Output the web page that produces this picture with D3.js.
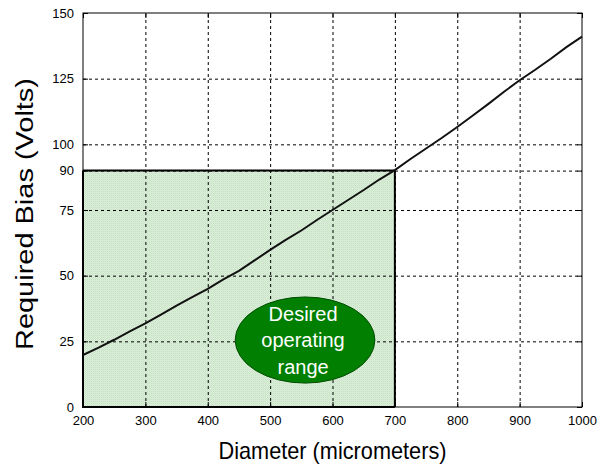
<!DOCTYPE html>
<meta charset="utf-8">
<style>
body { margin: 0; background: #fff; }
.tick text { font-family: Arial, "Liberation Sans", sans-serif; font-size: 13px; fill: #000; }
.grid line { stroke: #000; stroke-dasharray: 3,3; stroke-width: 1px; }
.grid path { display: none; }
.line { fill: none; stroke: #111; stroke-width: 2px; }
</style>
<svg width="610" height="472"></svg>
<script src="https://cdn.jsdelivr.net/npm/d3@7"></script>
<script>
// data
var diameter = [200,225,250,275,300,325,350,375,400,425,450,475,500,525,550,575,600,625,650,675,700,725,750,775,800,825,850,875,900,925,950,975,1000];
var bias = [19.8,22.6,25.6,28.8,31.8,35.2,38.6,41.8,45,48.6,51.8,55.8,59.8,63.6,67.2,71.2,75,78.8,82.6,86.6,90.2,94.4,98.4,102.4,106.6,111,115.4,120,124.4,128.4,132.6,137,141];
var xTicks = [200,300,400,500,600,700,800,900,1000];
var yTicks = [0,25,50,75,90,100,125,150];
var rangeMax = 700, biasMax = 90;
var labelLines = ["Desired", "operating", "range"];

var svg = d3.select("svg"),
    margin = {top: 13, right: 28, bottom: 65, left: 83},
    width = 582 - margin.left,
    height = 407 - margin.top,
    g = svg.append("g").attr("transform", "translate(" + margin.left + "," + margin.top + ")");

var x = d3.scaleLinear().domain([200, 1000]).range([0, width]),
    y = d3.scaleLinear().domain([0, 150]).range([height, 0]);

// dither pattern for the shaded area
var pat = svg.append("defs").append("pattern")
    .attr("id", "dots").attr("width", 2).attr("height", 2)
    .attr("patternUnits", "userSpaceOnUse");
pat.append("rect").attr("width", 2).attr("height", 2).attr("fill", "#ddefdb");
pat.append("rect").attr("width", 1).attr("height", 1).attr("fill", "#c3e0c2");
pat.append("rect").attr("x", 1).attr("y", 1).attr("width", 1).attr("height", 1).attr("fill", "#cfe7cd");

// shaded operating range
g.append("rect")
    .attr("x", x(200)).attr("y", y(biasMax))
    .attr("width", x(rangeMax) - x(200))
    .attr("height", y(0) - y(biasMax))
    .attr("fill", "url(#dots)");

// grid
g.append("g").attr("class", "grid")
    .attr("transform", "translate(0," + height + ")")
    .call(d3.axisBottom(x).tickValues(xTicks.slice(1, -1)).tickSize(-height).tickFormat(""));
g.append("g").attr("class", "grid")
    .call(d3.axisLeft(y).tickValues(yTicks.slice(1, -1)).tickSize(-width).tickFormat(""));

// frame
g.append("rect")
    .attr("width", width).attr("height", height)
    .attr("fill", "none").attr("stroke", "#000").attr("stroke-width", 1);

// border of the shaded range
g.append("path")
    .attr("d", "M" + x(200) + "," + y(biasMax) + "H" + x(rangeMax) + "V" + y(0))
    .attr("fill", "none").attr("stroke", "#000").attr("stroke-width", 2);
g.append("path")
    .attr("d", "M" + x(200) + "," + y(biasMax) + "V" + y(0) + "H" + x(rangeMax))
    .attr("fill", "none").attr("stroke", "#000").attr("stroke-width", 2);

// axes (inward ticks)
var xAxis = g.append("g")
    .attr("transform", "translate(0," + height + ")")
    .call(d3.axisBottom(x).tickValues(xTicks).tickFormat(d3.format("d")).tickSize(-5).tickPadding(9));
xAxis.select(".domain").remove();
var yAxis = g.append("g")
    .call(d3.axisLeft(y).tickValues(yTicks).tickSize(-5).tickPadding(9));
yAxis.select(".domain").remove();
g.append("g").attr("transform", "translate(" + width + ",0)")
    .call(d3.axisRight(y).tickValues(yTicks).tickSize(-5).tickFormat(""))
    .select(".domain").remove();
g.append("g")
    .call(d3.axisTop(x).tickValues(xTicks).tickSize(-5).tickFormat(""))
    .select(".domain").remove();
g.selectAll(".tick line").attr("stroke", "#000");

// the curve
var line = d3.line()
    .x(function(d, i) { return x(diameter[i]); })
    .y(function(d) { return y(d); });
g.append("path")
    .datum(bias)
    .attr("class", "line")
    .attr("d", line);

// annotation ellipse
var cx = x(556), cy = y(25.5);
g.append("ellipse")
    .attr("cx", cx).attr("cy", cy)
    .attr("rx", x(668) - x(556)).attr("ry", y(0) - y(16.4))
    .attr("fill", "#007f00").attr("stroke", "#004d00").attr("stroke-width", 1);
g.append("g").selectAll("text")
    .data(labelLines)
    .enter().append("text")
    .attr("x", cx - 2)
    .attr("y", function(d, i) { return cy + (i - 1) * 26.5; })
    .attr("dy", "0.35em")
    .attr("text-anchor", "middle")
    .attr("fill", "#fff")
    .style("font", "20px Arial, 'Liberation Sans', sans-serif")
    .text(function(d) { return d; });

// axis titles
svg.append("text")
    .attr("transform", "translate(33," + 214 + ") rotate(-90)")
    .attr("text-anchor", "middle")
    .attr("textLength", 272)
    .attr("lengthAdjust", "spacingAndGlyphs")
    .style("font", "23px Arial, 'Liberation Sans', sans-serif")
    .text("Required Bias (Volts)");
svg.append("text")
    .attr("x", margin.left + width / 2)
    .attr("y", 459)
    .attr("text-anchor", "middle")
    .attr("textLength", 228)
    .attr("lengthAdjust", "spacingAndGlyphs")
    .style("font", "24px Arial, 'Liberation Sans', sans-serif")
    .text("Diameter (micrometers)");
</script>
